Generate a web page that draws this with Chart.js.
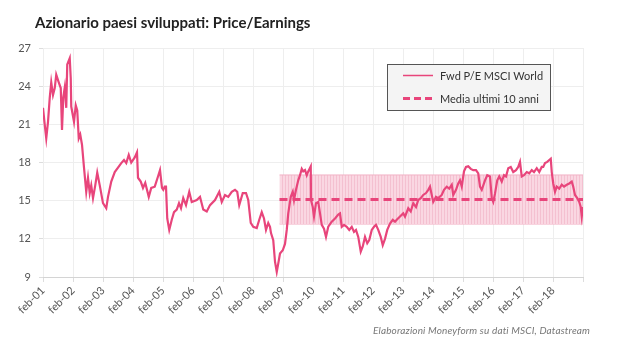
<!DOCTYPE html>
<html><head><meta charset="utf-8">
<script src="https://cdn.jsdelivr.net/npm/chart.js@4/dist/chart.umd.min.js"></script>
<style>
html,body{margin:0;padding:0;background:#fff;width:640px;height:360px;overflow:hidden}
#wrap{position:relative;width:640px;height:360px}
#title{position:absolute;left:35px;top:13px;font:bold 15px Lato, sans-serif;color:#222;white-space:nowrap}
#src{position:absolute;left:373px;top:324px;font:italic 10px Lato, sans-serif;letter-spacing:0.15px;color:#777;white-space:nowrap}
canvas{position:absolute;left:0;top:0}
</style></head><body>
<div id="wrap"><canvas id="c" width="640" height="360"></canvas>
<div id="title">Azionario paesi sviluppati: Price/Earnings</div>
<div id="src">Elaborazioni Moneyform su dati MSCI, Datastream</div></div>
<script>
// months elapsed since February 2001
const months = [0,0.7,1.3,2.0,2.7,3.3,4.0,4.7,5.3,6.3,
7.1,7.6,8.1,8.7,9.3,9.7,10.7,11.1,11.3,12.4,
13.1,13.7,14.3,14.9,15.6,16.4,17.3,18.0,18.7,19.3,
20.0,20.9,21.7,22.7,24.0,25.3,26.0,27.3,28.7,30.0,
31.3,32.4,33.3,34.3,35.3,36.7,37.6,38.0,39.1,40.0,
40.9,42.3,43.3,44.7,46.0,46.8,47.6,48.1,48.7,49.2,
49.7,50.5,51.5,52.4,53.5,54.4,55.2,56.1,57.2,58.5,
59.5,61.5,62.8,64.1,65.5,66.8,68.8,70.5,71.5,72.8,
74.1,75.5,76.8,77.7,78.5,79.9,81.2,82.1,83.1,84.1,
85.5,86.5,87.5,88.4,89.2,90.1,90.8,91.2,92.1,92.8,
93.5,94.1,94.8,95.9,96.8,97.5,98.1,99.1,99.9,100.4,
101.2,102.1,102.8,103.5,104.1,104.8,105.5,106.1,107.1,107.2,
107.9,108.4,109.2,110.1,110.8,111.5,112.4,113.2,114.1,115.5,
116.8,118.1,118.8,119.5,120.4,121.5,122.5,123.5,124.4,125.2,
126.1,127.1,127.9,128.8,129.7,130.5,131.5,132.4,133.2,134.1,
135.1,135.9,136.8,137.7,138.8,139.9,140.8,141.5,142.8,144.1,
144.8,146.1,147.1,148.1,149.2,150.1,151.1,152.1,153.2,154.1,
154.8,155.5,156.1,157.2,158.1,159.5,160.4,161.5,162.5,163.5,
164.1,165.2,166.1,166.8,167.5,168.4,169.2,170.1,171.1,172.1,
173.2,174.1,174.8,175.5,176.8,177.7,178.8,179.5,180.1,180.8,
181.7,182.5,183.5,184.4,185.2,186.1,187.1,188.1,189.2,190.1,
190.8,191.5,192.4,193.5,194.5,195.5,196.4,197.5,198.5,199.5,
200.1,200.8,201.7,202.5,203.1,203.5,204.1,204.8,205.5,206.5,
207.5,208.4,209.5,210.5,211.5,212.1,212.8,213.7,214.5,215.1,
215.5,216.0];
const peValues = [22.3,20.95,19.9,21.2,23.1,24.3,23.3,23.85,24.9,24.3,
23.85,20.55,23.1,23.9,22.3,25.7,26.2,24.6,22.4,21.2,
22.5,22.1,19.9,20.2,19.4,17.6,15.7,16.8,15.6,16.2,
15.2,16.2,17.2,16.2,14.8,14.4,15.3,16.5,17.25,17.6,
17.95,18.2,17.95,18.6,18.0,18.4,18.8,16.8,16.5,16.0,
16.4,15.3,16.0,16.1,16.9,17.4,16.0,15.85,16.1,16.1,
13.6,12.7,13.5,14.1,14.3,14.8,14.4,15.2,14.65,15.7,
14.9,15.05,15.3,14.3,14.15,14.65,15.05,15.7,14.9,15.45,
15.3,15.7,15.85,15.7,14.65,15.6,15.6,15.05,13.25,12.95,
12.85,13.5,14.1,13.6,12.7,13.25,12.95,12.45,11.9,10.2,
9.4,10.05,10.85,11.1,11.6,12.7,14.0,15.3,15.7,15.05,
15.85,16.6,17.0,17.5,17.3,17.4,17.0,17.3,17.7,15.05,
14.5,13.75,14.8,14.9,14.0,13.1,12.8,12.15,12.95,13.35,
13.6,13.9,14.0,12.95,13.1,12.95,12.7,12.95,12.55,12.7,
12.15,11.0,11.4,12.15,11.65,11.9,12.7,12.95,13.1,12.7,
12.15,11.5,12.0,12.7,13.2,13.5,13.35,13.5,13.75,14.0,
13.75,14.4,14.15,14.8,14.5,15.05,15.2,15.45,15.6,15.85,
16.1,15.45,14.9,15.3,15.2,15.45,15.85,16.1,15.95,16.25,
15.45,15.85,16.35,16.6,16.1,17.3,17.65,17.7,17.5,17.4,
17.4,17.15,16.1,15.85,16.6,17.0,16.9,15.2,14.9,15.55,
16.6,16.9,16.5,17.0,16.9,17.55,17.65,17.25,17.4,17.65,
18.05,16.9,17.0,17.25,17.15,17.4,17.25,17.55,17.25,17.65,
17.65,17.95,18.05,18.2,18.3,17.25,16.35,15.7,16.1,15.95,
16.25,16.1,16.25,16.35,16.5,16.1,15.45,15.2,14.9,14.5,
13.75,14.5];
// 10-year window (months since Feb 2001) and its statistics
const bandMonths = [94.6, 216];
const mean10y = 15.09;
const bandUpper = 17.02;
const bandLower = 13.16;
const xTickLabels = ['feb-01','feb-02','feb-03','feb-04','feb-05','feb-06','feb-07','feb-08','feb-09',
  'feb-10','feb-11','feb-12','feb-13','feb-14','feb-15','feb-16','feb-17','feb-18'];
const seriesNames = ['Fwd P/E MSCI World', 'Media ultimi 10 anni'];

const PINK = '#e8457b';
const canvas = document.getElementById('c');
const ctx0 = canvas.getContext('2d');
const pc = document.createElement('canvas'); pc.width = 3; pc.height = 8;
const pg = pc.getContext('2d');
pg.fillStyle = '#fad7e2'; pg.fillRect(0,0,3,8);
pg.fillStyle = '#f4c0d0'; pg.fillRect(0,0,1,8);
const bandPattern = ctx0.createPattern(pc, 'repeat');

const legendBox = {
  id: 'legendBox',
  afterDraw(chart) {
    const c = chart.ctx;
    c.save();
    c.fillStyle = '#f4f4f4';
    c.fillRect(387.5, 64.5, 163, 46);
    c.strokeStyle = '#555'; c.lineWidth = 1;
    c.strokeRect(387.5, 64.5, 163, 46);
    c.strokeStyle = PINK;
    c.lineWidth = 1.5; c.setLineDash([]);
    c.beginPath(); c.moveTo(403, 75.5); c.lineTo(433, 75.5); c.stroke();
    c.lineWidth = 3; c.setLineDash([7,4]);
    c.beginPath(); c.moveTo(403, 98.5); c.lineTo(434, 98.5); c.stroke();
    c.setLineDash([]);
    c.fillStyle = '#333'; c.font = '11px Lato, sans-serif'; c.textBaseline = 'middle';
    c.fillText(chart.data.datasets[0].label, 440, 76);
    c.fillText(chart.data.datasets[1].label, 440, 99);
    c.restore();
  }
};

new Chart(canvas, {
  type: 'line',
  data: {
    datasets: [
      { label: seriesNames[0], data: months.map((m,i)=>({x:m, y:peValues[i]})),
        borderColor: PINK, borderWidth: 2.2, pointRadius: 0, tension: 0, order: 0 },
      { label: seriesNames[1], data: bandMonths.map(m=>({x:m, y:mean10y})),
        borderColor: PINK, borderWidth: 3, borderDash: [8,5], pointRadius: 0, order: 1 },
      { label: 'sup', data: bandMonths.map(m=>({x:m, y:bandUpper})),
        borderColor: '#f2b3c7', borderWidth: 1, pointRadius: 0, fill: '+1', backgroundColor: bandPattern, order: 2 },
      { label: 'inf', data: bandMonths.map(m=>({x:m, y:bandLower})),
        borderColor: '#f2b3c7', borderWidth: 1, pointRadius: 0, order: 3 }
    ]
  },
  options: {
    responsive: false, animation: false, devicePixelRatio: 1,
    layout: { padding: { top: 48, right: 57, left: 0, bottom: 0 } },
    plugins: { legend: { display: false }, tooltip: { enabled: false } },
    scales: {
      x: {
        type: 'linear', min: 0, max: 216,
        afterFit: s => { s.height = 83; },
        grid: { color: '#eeeeee', tickLength: 5, tickColor: '#dddddd' },
        border: { color: '#d4d4d4' },
        ticks: { stepSize: 12, autoSkip: false, maxRotation: 45, minRotation: 45, padding: 2,
          color: '#555', font: { family: 'Lato, sans-serif', size: 11 },
          callback: v => xTickLabels[v/12] !== undefined ? xTickLabels[v/12] : '' }
      },
      y: {
        min: 9, max: 27,
        afterFit: s => { s.width = 43; },
        grid: { color: '#eeeeee', tickLength: 4, tickColor: '#dddddd' },
        border: { display: false },
        ticks: { stepSize: 3, color: '#555', padding: 8, font: { family: 'Lato, sans-serif', size: 11 } }
      }
    }
  },
  plugins: [legendBox]
});
</script>
</body></html>
